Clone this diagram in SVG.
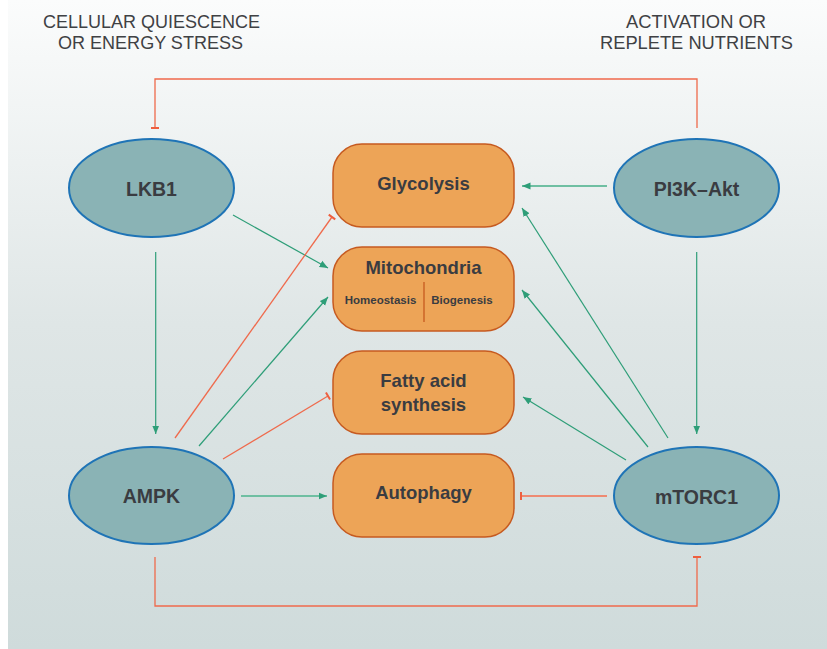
<svg xmlns="http://www.w3.org/2000/svg" width="827" height="649" viewBox="0 0 827 649">
<defs>
<linearGradient id="bg" x1="0" y1="0" x2="0" y2="1">
<stop offset="0" stop-color="#fbfcfc"/>
<stop offset="0.5" stop-color="#dfe6e6"/>
<stop offset="1" stop-color="#cfdbdb"/>
</linearGradient>
<marker id="arr" markerUnits="userSpaceOnUse" markerWidth="9" markerHeight="8" refX="8.5" refY="4" orient="auto" viewBox="0 0 9 8">
<path d="M0,0.5 L8.5,4 L0,7.5 z" fill="#2e9e78"/>
</marker>
<marker id="bar" markerUnits="userSpaceOnUse" markerWidth="3" markerHeight="9" refX="1.5" refY="4.5" orient="auto" viewBox="0 0 3 9">
<path d="M1.5,0.5 L1.5,8.5" stroke="#ee5f3f" stroke-width="2"/>
</marker>
</defs>
<style>
.ell{fill:#8ab3b5;stroke:#1f74b6;stroke-width:2}
.box{fill:#eda457;stroke:#c65a20;stroke-width:1.5}
.nt{font-family:"Liberation Sans",Arial,sans-serif;font-weight:bold;fill:#3a3c41;text-anchor:middle}
.hd{font-family:"Liberation Sans",Arial,sans-serif;fill:#3f4144;text-anchor:middle;font-size:19px}
.g{stroke:#2e9e78;stroke-width:1.2;fill:none}
.gw{stroke:#6fbfa2;stroke-width:2.2;fill:none}
.r{stroke:#ef6a4c;stroke-width:1.3;fill:none}
.rw{stroke:#ee8a72;stroke-width:2.2;fill:none}
</style>
<rect x="0" y="0" width="827" height="649" fill="#ffffff"/>
<rect x="8" y="0" width="819" height="649" fill="url(#bg)"/>
<text class="hd" x="151.5" y="28" textLength="217" lengthAdjust="spacingAndGlyphs">CELLULAR QUIESCENCE</text>
<text class="hd" x="150.5" y="48.5" textLength="185" lengthAdjust="spacingAndGlyphs">OR ENERGY STRESS</text>
<text class="hd" x="696" y="28" textLength="140" lengthAdjust="spacingAndGlyphs">ACTIVATION OR</text>
<text class="hd" x="696.5" y="48.5" textLength="193" lengthAdjust="spacingAndGlyphs">REPLETE NUTRIENTS</text>
<g id="connectors">
<path class="r" d="M697,128 L697,79 L155,79 L155,128" marker-end="url(#bar)"/>
<path class="r" d="M155,557 L155,606 L697,606 L697,557" marker-end="url(#bar)"/>
<line class="g" x1="155.7" y1="252" x2="155.7" y2="434" marker-end="url(#arr)"/>
<line class="g" x1="696.7" y1="252" x2="696.7" y2="434" marker-end="url(#arr)"/>
<line class="g" x1="233" y1="215" x2="328" y2="268" marker-end="url(#arr)"/>
<line class="g" x1="199" y1="446" x2="328" y2="297" marker-end="url(#arr)"/>
<line class="r" x1="175" y1="438" x2="332" y2="217" marker-end="url(#bar)"/>
<line class="r" x1="223" y1="459" x2="328" y2="396" marker-end="url(#bar)"/>
<line class="gw" x1="241" y1="496" x2="327" y2="496" marker-end="url(#arr)"/>
<line class="rw" x1="607" y1="496" x2="521" y2="496" marker-end="url(#bar)"/>
<line class="gw" x1="607" y1="186" x2="522" y2="186" marker-end="url(#arr)"/>
<line class="g" x1="668" y1="438" x2="522" y2="208" marker-end="url(#arr)"/>
<line class="g" x1="648" y1="447" x2="522" y2="290" marker-end="url(#arr)"/>
<line class="g" x1="626" y1="460" x2="523" y2="397" marker-end="url(#arr)"/>
</g>
<g id="lkb1">
<ellipse class="ell" cx="151.5" cy="188" rx="82.5" ry="49"/>
<text class="nt" x="151.5" y="196" font-size="19.5">LKB1</text>
</g>
<g id="ampk">
<ellipse class="ell" cx="151.5" cy="495.5" rx="82.5" ry="48.5"/>
<text class="nt" x="151.5" y="503" font-size="19.5">AMPK</text>
</g>
<g id="pi3k">
<ellipse class="ell" cx="696.5" cy="188" rx="82.5" ry="49"/>
<text class="nt" x="696.5" y="196" font-size="19.5">PI3K–Akt</text>
</g>
<g id="mtorc1">
<ellipse class="ell" cx="696.5" cy="495.5" rx="82.5" ry="48.5"/>
<text class="nt" x="696.5" y="504" font-size="19.5">mTORC1</text>
</g>
<g id="glycolysis">
<rect class="box" x="333" y="144" width="181" height="83" rx="29"/>
<text class="nt" x="423.5" y="190" font-size="18.5">Glycolysis</text>
</g>
<g id="mitochondria">
<rect class="box" x="333" y="247" width="181" height="84" rx="29"/>
<text class="nt" x="423.5" y="274" font-size="18.5">Mitochondria</text>
<line x1="424" y1="282" x2="424" y2="322" stroke="#c65a20" stroke-width="1.3"/>
<text class="nt" x="380.5" y="304" font-size="11.5">Homeostasis</text>
<text class="nt" x="462" y="304" font-size="11.5">Biogenesis</text>
</g>
<g id="fatty">
<rect class="box" x="333" y="351" width="181" height="83" rx="29"/>
<text class="nt" x="423.5" y="387" font-size="18.5">Fatty acid</text>
<text class="nt" x="423.5" y="411" font-size="18.5">synthesis</text>
</g>
<g id="autophagy">
<rect class="box" x="333" y="454" width="181" height="83" rx="29"/>
<text class="nt" x="423.5" y="499" font-size="18.5">Autophagy</text>
</g>
</svg>
